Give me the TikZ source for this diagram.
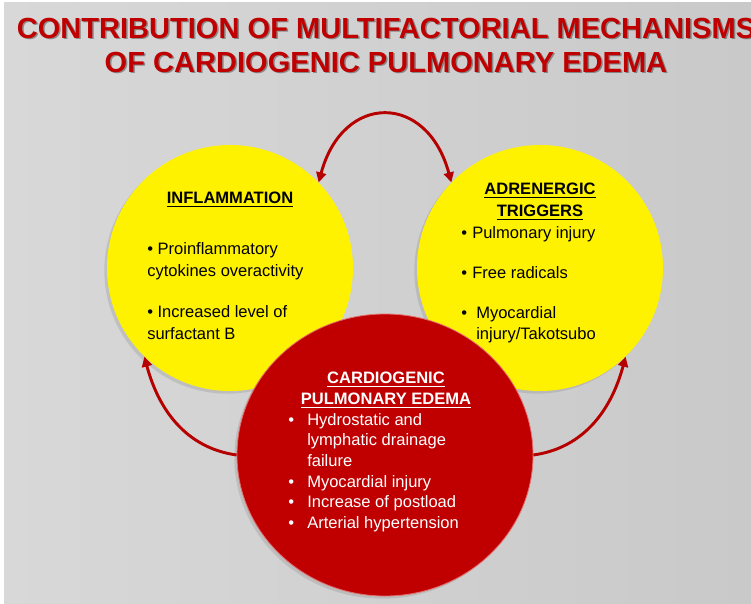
\documentclass[tikz,border=0pt]{standalone}
\usepackage{fontspec}
\setmainfont{Liberation Sans}
\usetikzlibrary{shapes.geometric,shadows,arrows.meta}

\definecolor{darkred}{RGB}{192,0,0}
\definecolor{arrowred}{RGB}{182,0,0}
\definecolor{bgleft}{RGB}{216,216,216}
\definecolor{bgright}{RGB}{201,201,201}

% bullet with a hanging indent, and an underlined bold heading
\newcommand{\itm}[1][14.25pt]{\makebox[#1][l]{\textbullet}}
\newcommand{\hd}[1]{\underline{\textbf{#1}}}
\newcommand{\titletext}{CONTRIBUTION OF MULTIFACTORIAL MECHANISMS\\OF CARDIOGENIC PULMONARY EDEMA}

\begin{document}
\begin{tikzpicture}[x=.75pt, y=-.75pt, >={Triangle[length=7.5pt,width=7.5pt]},
  bubble/.style={circle, minimum size=184.5pt, inner sep=0pt, fill=yellow,
    drop shadow={shadow xshift=-2pt, shadow yshift=-2pt, opacity=.25}},
  txt/.style={inner sep=0pt, font=\fontsize{12.4}{16.5}\selectfont, align=left},
  heading/.style={font=\fontsize{21.8}{25.5}\selectfont\bfseries, align=center, inner sep=0pt},
  link/.style={draw=arrowred, line width=2.2pt, ->}]
\useasboundingbox (0,0) rectangle (751,604);
\fill[white] (0,0) rectangle (751,604);
\shade[left color=bgleft, right color=bgright] (4,2) rectangle (751,604);

% title, with its shadow under it
\node[heading, text=black, opacity=.35] (title-shadow) at (387.5,46.5) {\titletext};
\node[heading, text=darkred] (title) at (386,45) {\titletext};

% the three circles
\node[bubble] (infl) at (230,268) {};
\node[bubble] (adren) at (540,268) {};
\node[ellipse, fill=darkred, minimum width=222pt, minimum height=211.5pt, inner sep=0pt,
  draw={rgb,255:red,228;green,110;blue,110}, line width=.6pt,
  drop shadow={shadow xshift=-2pt, shadow yshift=-2pt, opacity=.25}] (edema) at (385,455) {};

% arrows
\draw[link, <->] (infl.44) to[out=75, in=105, looseness=1.8] (adren.136);
\draw[link] (edema.west) to[out=172, in=-75] (infl.226);
\draw[link] (edema.east) to[out=8, in=-105] (adren.-46);

% texts
\node[txt, anchor=north] (infl-head) at (230,192) {\hd{INFLAMMATION}};
\node[txt, anchor=north west] (infl-list) at (147,242)
  {\textbullet{} Proinflammatory\\cytokines overactivity\\[14.25pt]\textbullet{} Increased level of\\surfactant B};

\node[txt, anchor=north, align=center] (adren-head) at (540,183) {\hd{ADRENERGIC}\\\hd{TRIGGERS}};
\node[txt, anchor=north west, font=\fontsize{12.4}{15.4}\selectfont] (adren-list) at (461,226)
  {\itm[8.25pt]Pulmonary injury\\[14.6pt]\itm[8.25pt]Free radicals\\[15pt]\itm[11.25pt]Myocardial\\\hspace*{11.25pt}injury/Takotsubo};

\node[txt, anchor=north, align=center, text=white, font=\fontsize{12.4}{15.75}\selectfont] (edema-head) at (386,372)
  {\hd{CARDIOGENIC}\\\hd{PULMONARY EDEMA}};
\node[txt, anchor=north west, text=white, font=\fontsize{12.4}{15.45}\selectfont] (edema-list) at (288,413)
  {\itm Hydrostatic and\\\hspace*{14.25pt}lymphatic drainage\\\hspace*{14.25pt}failure\\\itm Myocardial injury\\\itm Increase of postload\\\itm Arterial hypertension};
\end{tikzpicture}
\end{document}
